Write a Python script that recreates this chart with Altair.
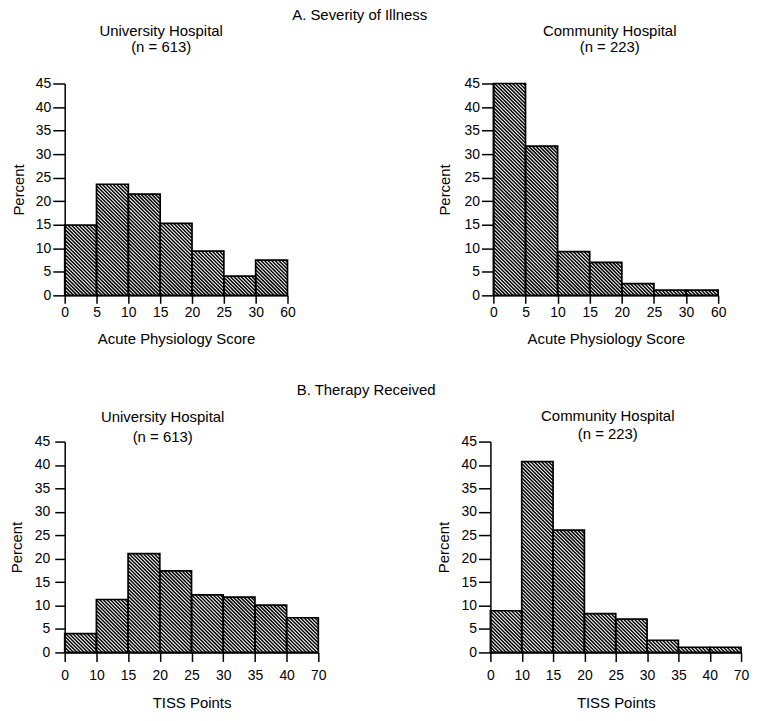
import json
import altair as alt
import pandas as pd

# ---- data ----
a_labels = ["0", "5", "10", "15", "20", "25", "30", "60"]
a_univ = [14.9, 23.6, 21.5, 15.3, 9.4, 4.1, 7.5]
a_comm = [45.0, 31.7, 9.3, 7.0, 2.5, 1.1, 1.1]

b_labels = ["0", "10", "15", "20", "25", "30", "35", "40", "70"]
b_univ = [4.0, 11.3, 21.1, 17.4, 12.3, 11.8, 10.1, 7.4]
b_comm = [8.9, 40.7, 26.1, 8.3, 7.1, 2.6, 1.1, 1.1]

FONT = "Liberation Sans"
YMAX = 45
PITCH = 3.6  # hatch spacing (px, horizontal)


def hatch_rows(values, W, H):
    """Diagonal hatch segments for each bar, expressed in data units."""
    n = len(values)
    ax = W / n
    ay = H / YMAX
    rows = []
    for i, v in enumerate(values):
        u0, u1, vh = i * ax, (i + 1) * ax, v * ay
        k = int(u0 // PITCH) - 1
        while True:
            c = (k + 0.5) * PITCH
            k += 1
            if c <= u0:
                continue
            if c >= u1 + vh:
                break
            uL = max(u0, c - vh)
            uR = min(u1, c)
            rows.append({"hx": uL / ax, "hy": (c - uL) / ay,
                         "hx2": uR / ax, "hy2": (c - uR) / ay})
    return pd.DataFrame(rows)


def panel(values, labels, W, H, title, tdx, toff, tlh, xtitle,
          ytick, ylpad, ytpad, xtick, xlpad, xtpad):
    n = len(values)
    xscale = alt.Scale(domain=[0, n], nice=False, zero=False)
    yscale = alt.Scale(domain=[0, YMAX], nice=False)
    xaxis = alt.Axis(values=list(range(n + 1)),
                     labelExpr=f"{json.dumps(labels)}[datum.value]",
                     title=xtitle, tickSize=xtick, titlePadding=xtpad,
                     labelPadding=xlpad)
    yaxis = alt.Axis(values=list(range(0, YMAX + 1, 5)),
                     title="Percent", tickSize=ytick,
                     labelPadding=ylpad, titlePadding=ytpad)
    bars = pd.DataFrame({"x0": list(range(n)),
                         "x1": [i + 1 for i in range(n)],
                         "pct": values})
    hatch = alt.Chart(hatch_rows(values, W, H)).mark_rule(
        color="black", strokeWidth=1.5
    ).encode(
        x=alt.X("hx:Q", scale=xscale, axis=xaxis),
        x2="hx2:Q",
        y=alt.Y("hy:Q", scale=yscale, axis=yaxis),
        y2="hy2:Q",
    )
    rect = alt.Chart(bars).mark_rect(
        fillOpacity=0, stroke="black", strokeWidth=1.7
    ).encode(
        x=alt.X("x0:Q", scale=xscale, axis=xaxis),
        x2="x1:Q",
        y=alt.Y("pct:Q", scale=yscale, axis=yaxis),
        y2=alt.datum(0),
    )
    return alt.layer(hatch, rect).properties(
        width=W, height=H,
        title=alt.TitleParams(title, dx=tdx, offset=toff, lineHeight=tlh,
                              anchor="middle", fontSize=15,
                              fontWeight="normal", font=FONT, color="black"),
    )


pa1 = panel(a_univ, a_labels, 224, 213, ["University Hospital", "(n = 613)"],
            -15, 22, 15.5, "Acute Physiology Score", 12, 2, 9, 8, 2, 12)
pa2 = panel(a_comm, a_labels, 226, 213, ["Community Hospital", "(n = 223)"],
            4, 22, 15.5, "Acute Physiology Score", 12, 2, 12, 8, 2, 12)
pb1 = panel(b_univ, b_labels, 255, 212, ["University Hospital", "(n = 613)"],
            -29, -10, 20, "TISS Points", 10, 5, 10, 9, 7, 13)
pb2 = panel(b_comm, b_labels, 252, 212, ["Community Hospital", "(n = 223)"],
            -8, -7, 18, "TISS Points", 12, 2, 10, 9, 7, 13)

rowA = alt.hconcat(pa1, pa2, spacing=140).properties(
    title=alt.TitleParams("A. Severity of Illness", anchor="middle", dx=-9,
                          offset=1, fontSize=15, fontWeight="normal",
                          font=FONT, color="black"))
rowB = alt.hconcat(pb1, pb2, spacing=108).properties(
    title=alt.TitleParams("B. Therapy Received", anchor="middle", dx=-13,
                          offset=10, fontSize=15, fontWeight="normal",
                          font=FONT, color="black"))

chart = alt.vconcat(rowA, rowB, spacing=36).properties(
    padding={"left": 0, "right": 0, "top": -2, "bottom": 0},
    background="white"
).configure_view(
    stroke="transparent"
).configure_axis(
    labelFont=FONT, titleFont=FONT, labelFontSize=14, titleFontSize=15,
    titleFontWeight="normal", labelColor="black", titleColor="black",
    domainColor="black", tickColor="black", domainWidth=1.5, tickWidth=1.5,
    grid=False, labelFlush=False, labelOverlap=False
).configure_title(
    font=FONT, fontSize=15, fontWeight="normal", color="black"
)

chart.save("out.html", embed_options={"renderer": "svg", "actions": False})
